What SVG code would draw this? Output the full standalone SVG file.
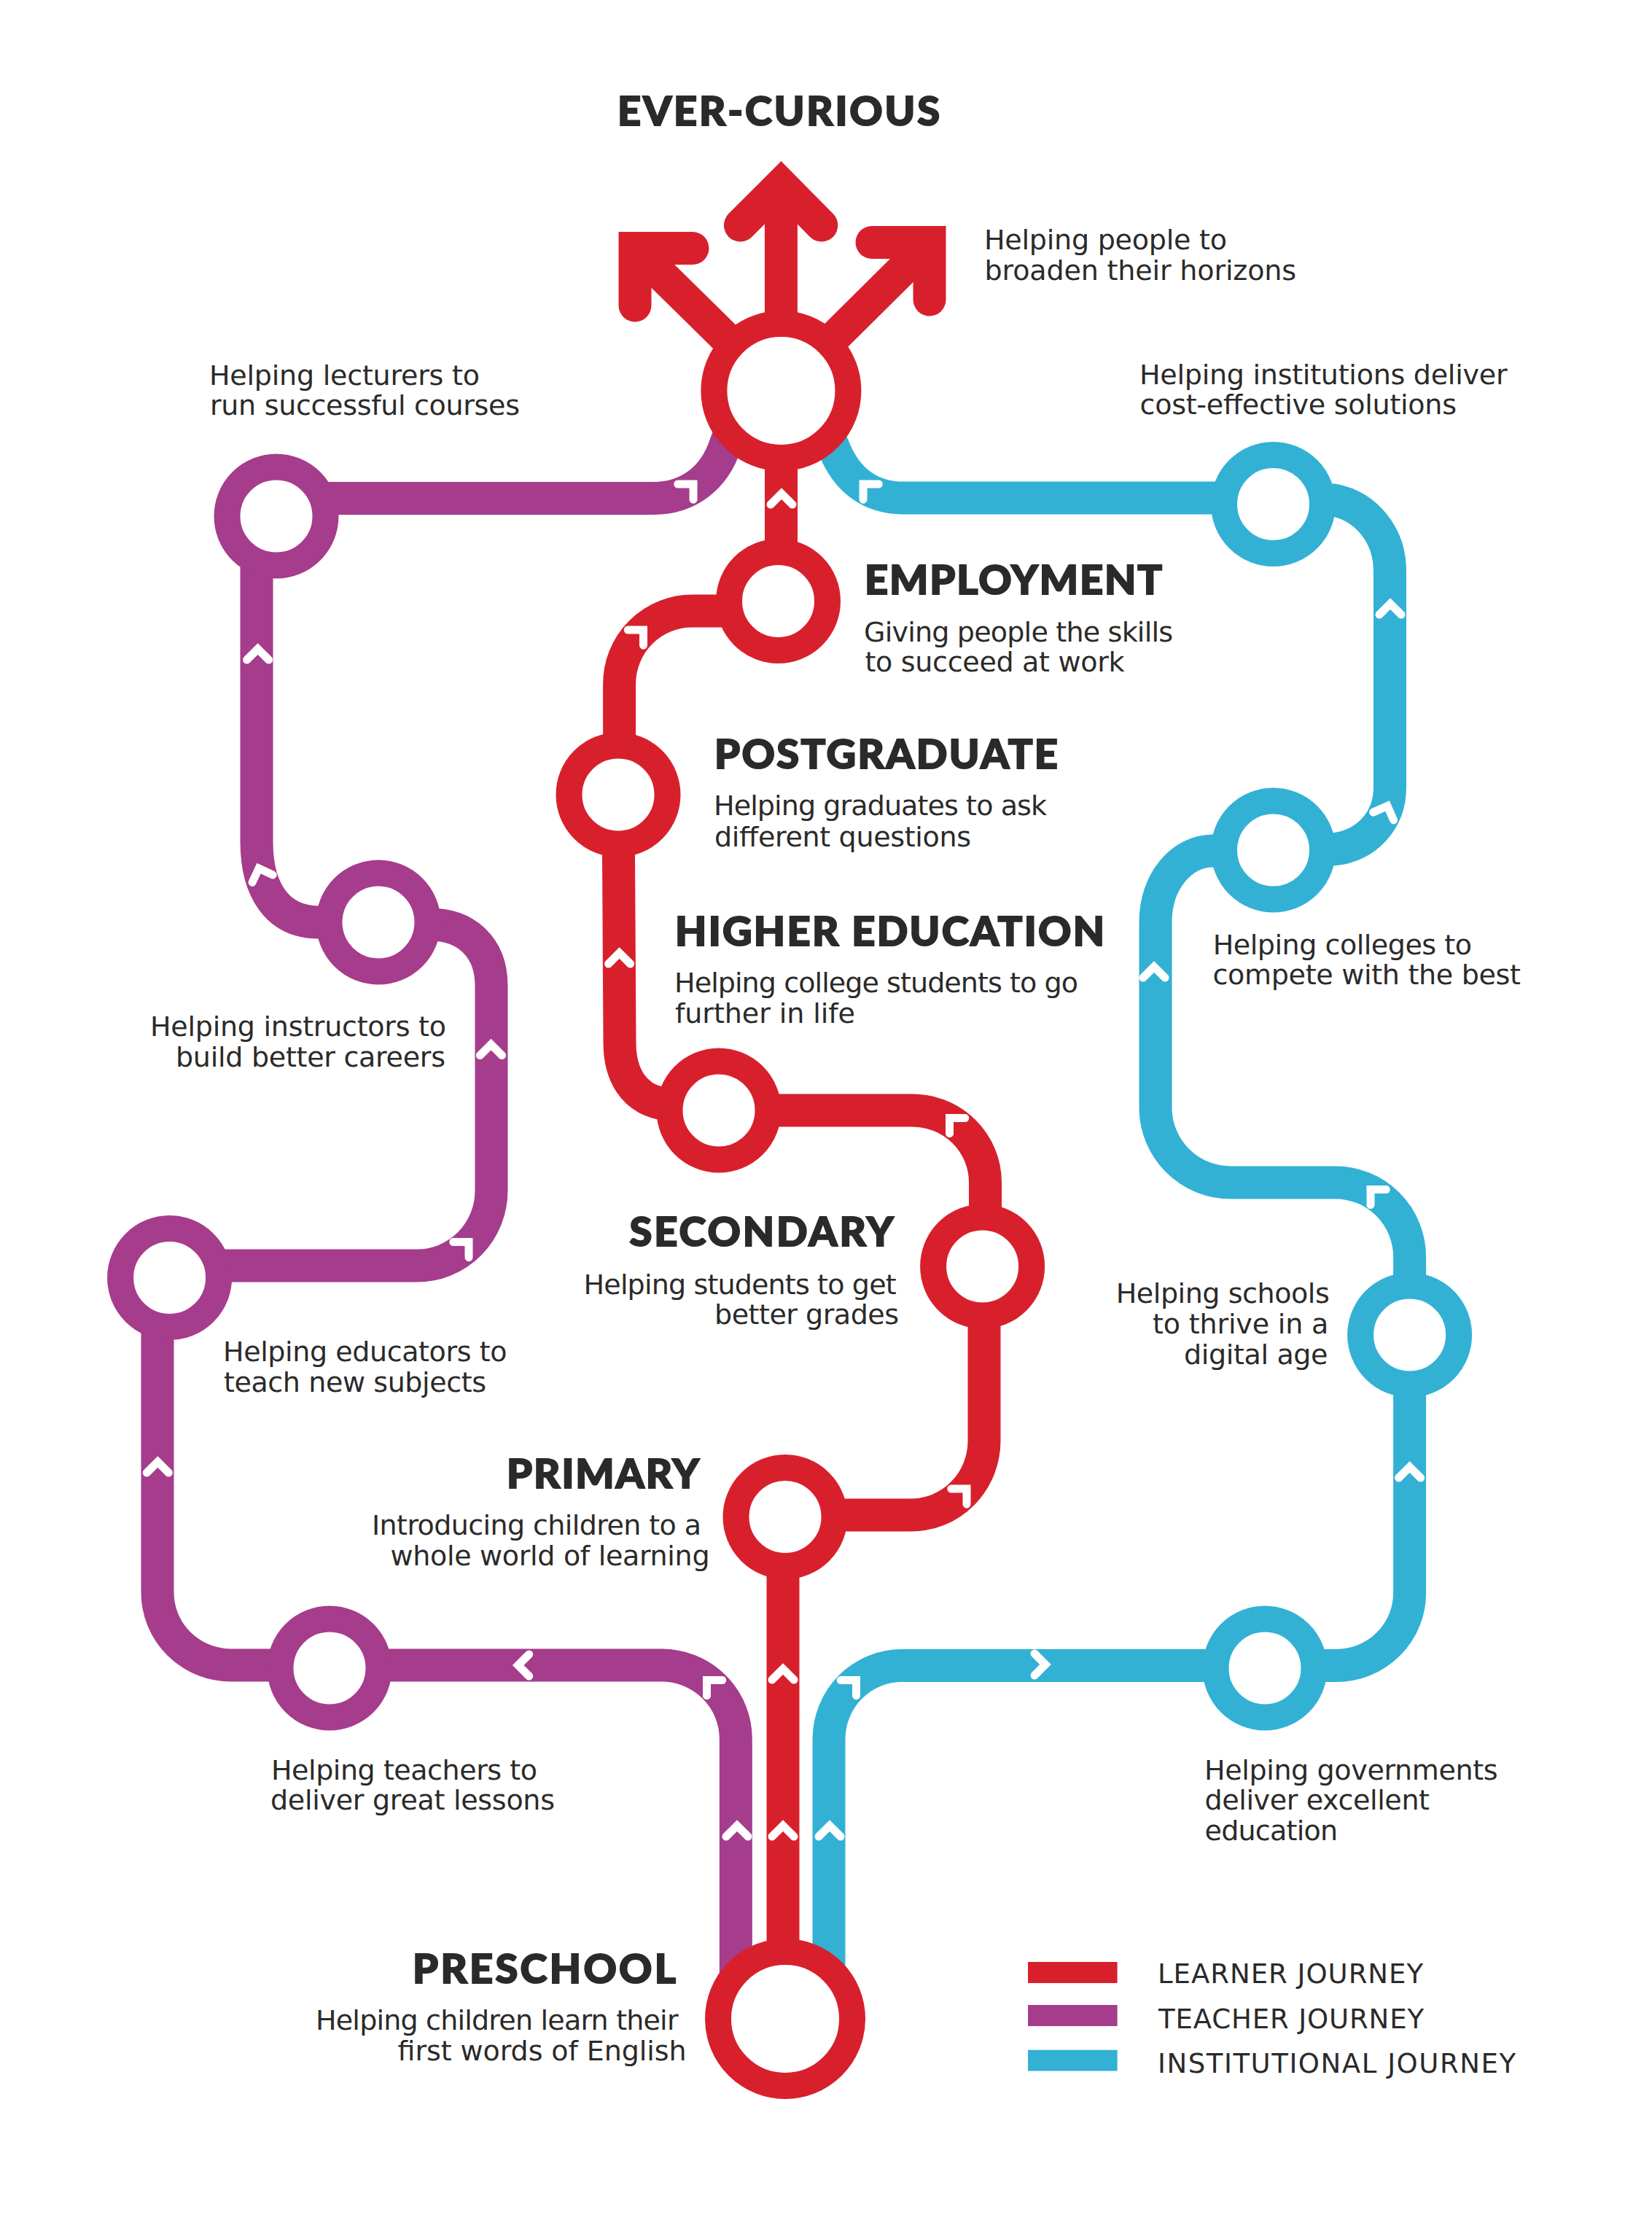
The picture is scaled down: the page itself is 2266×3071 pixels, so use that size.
<svg xmlns="http://www.w3.org/2000/svg" width="2266" height="3071" viewBox="0 0 2266 3071">
<style>
.line{fill:none;stroke-width:45;stroke-linejoin:round}
.r{stroke:#d8202d}.p{stroke:#a63c8c}.c{stroke:#32b1d5}
.nd{fill:#fff;stroke-width:36}
.big{fill:#fff;stroke-width:36}
.b,.l{font-family:"DejaVu Sans","Liberation Sans",sans-serif;font-size:38px;fill:#2b2a29}
.l{font-size:37px}
.h{font-family:Lato,"Noto Sans",sans-serif;font-weight:900;font-size:56px;fill:#2b2a29;stroke:#2b2a29;stroke-width:2}
.ch{fill:none;stroke:#fff;stroke-width:11;stroke-linecap:round;stroke-linejoin:miter}
</style>
<defs><path id="chev" class="ch" d="M-15,15L0,0L15,15"/></defs>
<rect width="2266" height="3071" fill="#fff"/>
<g id="connectors">
<path class="line r" d="M1074,2769L1074,2080"/>
<path class="line r" d="M1078,2078L1250,2078A100,102 0 0 0 1350,1976L1350,1737M1351.5,1737L1351.5,1622A100,99 0 0 0 1251,1523L986,1523"/>
<path class="line r" d="M980,1518L905,1513C870,1505 850,1475 850,1430L848,1090"/>
<path class="line r" d="M849.6,1090L849.6,938A100,100 0 0 1 950,838L1067,838"/>
<path class="line r" d="M1071.5,824L1071.5,536"/>
<path class="line p" d="M1009.3,2769L1009.3,2385A102,101 0 0 0 907,2284L317,2284A101,100 0 0 1 216,2184L216,1752"/>
<path class="line p" d="M232,1736L572,1736A102,103 0 0 0 674,1633L674,1352C674,1300 640,1268 590,1268L519,1265L437,1265C380,1265 352,1220 352,1154L352,708"/>
<path class="line p" d="M379,683.5L896,683.5C945,683.5 980,655 995,610L1010,570"/>
<path class="line c" d="M1137,2769L1137,2385A100,101 0 0 1 1237,2284.5L1833,2284.5A100.600,99.500 0 0 0 1933.6,2185L1933.6,1724A101.600,102 0 0 0 1832,1622L1688,1622A103,103 0 0 1 1585,1519L1585,1264C1585,1210 1620,1167 1664,1167L1746,1166L1829,1165C1875,1160 1906.500,1125 1906.500,1080L1906.500,783C1906.500,735 1875,695 1830,686L1746,686"/>
<path class="line c" d="M1746,683L1239,683C1190,683 1160,655 1144,615L1125,570"/>
<g id="chevrons">
<use href="#chev" transform="translate(353.6,890)"/>
<use href="#chev" transform="translate(355,1191) rotate(-20)"/>
<use href="#chev" transform="translate(673.5,1432.5)"/>
<use href="#chev" transform="translate(643,1703.5) rotate(45)"/>
<use href="#chev" transform="translate(216.3,2005)"/>
<use href="#chev" transform="translate(710.7,2284) rotate(-90)"/>
<use href="#chev" transform="translate(969.5,2304.5) rotate(-45)"/>
<use href="#chev" transform="translate(1011,2504)"/>
<use href="#chev" transform="translate(1074,2289)"/>
<use href="#chev" transform="translate(1074,2504)"/>
<use href="#chev" transform="translate(1138,2504)"/>
<use href="#chev" transform="translate(1174.5,2304.5) rotate(45)"/>
<use href="#chev" transform="translate(1434,2283) rotate(90)"/>
<use href="#chev" transform="translate(1072,677)"/>
<use href="#chev" transform="translate(951,664) rotate(45)"/>
<use href="#chev" transform="translate(1184,664) rotate(-45)"/>
<use href="#chev" transform="translate(882.5,864) rotate(45)"/>
<use href="#chev" transform="translate(849.6,1307)"/>
<use href="#chev" transform="translate(1302.5,1533.5) rotate(-45)"/>
<use href="#chev" transform="translate(1326,2042) rotate(45)"/>
<use href="#chev" transform="translate(1907,828)"/>
<use href="#chev" transform="translate(1903,1105.5) rotate(21)"/>
<use href="#chev" transform="translate(1583,1326)"/>
<use href="#chev" transform="translate(1880,1631.5) rotate(-45)"/>
<use href="#chev" transform="translate(1933.6,2012)"/>
</g>
</g>
<g id="ever-curious">
<path fill="none" stroke="#d8202d" stroke-width="45" stroke-linecap="round" stroke-linejoin="miter" d="M1015.4,309L1071.4,253L1126.8,309"/>
<path fill="none" stroke="#d8202d" stroke-width="45" stroke-linejoin="miter" d="M1071.4,260L1071.4,536"/>
<path fill="none" stroke="#d8202d" stroke-width="45" stroke-linecap="round" stroke-linejoin="miter" d="M950,340.500L871,340.500L871,419"/>
<path fill="none" stroke="#d8202d" stroke-width="45" d="M878,348L1000,468"/>
<path fill="none" stroke="#d8202d" stroke-width="45" stroke-linecap="round" stroke-linejoin="miter" d="M1196,332.500L1275,332.500L1275,411"/>
<path fill="none" stroke="#d8202d" stroke-width="45" d="M1268,340L1145,462"/>
<circle class="big r" cx="1071.4" cy="536" r="92"/>
<text class="h" x="847" y="171.500" textLength="442">EVER-CURIOUS</text>
<text class="b" x="1350" y="342" textLength="333">Helping people to</text>
<text class="b" x="1350.500" y="383.500" textLength="427.500">broaden their horizons</text>
</g>
<g id="employment">
<circle class="nd r" cx="1067.5" cy="824.500" r="67.500"/>
<text class="h" x="1186" y="815" textLength="408">EMPLOYMENT</text>
<text class="b" x="1185" y="880" textLength="424">Giving people the skills</text>
<text class="b" x="1186.500" y="921" textLength="356">to succeed at work</text>
</g>
<g id="postgraduate">
<circle class="nd r" cx="848" cy="1090" r="67.500"/>
<text class="h" x="980" y="1054" textLength="471">POSTGRADUATE</text>
<text class="b" x="979" y="1118.400" textLength="457">Helping graduates to ask</text>
<text class="b" x="980" y="1160.700" textLength="352">different questions</text>
</g>
<g id="higher-education">
<circle class="nd r" cx="986" cy="1523" r="67.500"/>
<text class="h" x="926" y="1297" textLength="589">HIGHER EDUCATION</text>
<text class="b" x="925" y="1360.700" textLength="554">Helping college students to go</text>
<text class="b" x="926" y="1402.600" textLength="247">further in life</text>
</g>
<g id="secondary">
<circle class="nd r" cx="1347.6" cy="1737" r="67.500"/>
<text class="h" x="863.500" y="1709" textLength="362">SECONDARY</text>
<text class="b" x="800.600" y="1774.500" textLength="429">Helping students to get</text>
<text class="b" x="980" y="1816" textLength="253">better grades</text>
</g>
<g id="primary">
<circle class="nd r" cx="1077" cy="2080.600" r="67.500"/>
<text class="h" x="695" y="2040.500" textLength="264">PRIMARY</text>
<text class="b" x="510" y="2105" textLength="452">Introducing children to a</text>
<text class="b" x="535.500" y="2147" textLength="438">whole world of learning</text>
</g>
<g id="preschool">
<circle class="big r" cx="1077" cy="2769" r="92"/>
<text class="h" x="566" y="2719.500" textLength="361">PRESCHOOL</text>
<text class="b" x="433" y="2784" textLength="497.500">Helping children learn their</text>
<text class="b" x="545.500" y="2826" textLength="396">first words of English</text>
</g>
<g id="lecturers">
<circle class="nd p" cx="379" cy="708" r="67.500"/>
<text class="b" x="287" y="527.500" textLength="371">Helping lecturers to</text>
<text class="b" x="288" y="569.400" textLength="425">run successful courses</text>
</g>
<g id="instructors">
<circle class="nd p" cx="519" cy="1265" r="67.500"/>
<text class="b" x="206" y="1421" textLength="406">Helping instructors to</text>
<text class="b" x="241" y="1462.800" textLength="370">build better careers</text>
</g>
<g id="educators">
<circle class="nd p" cx="232.600" cy="1752.600" r="67.500"/>
<text class="b" x="306" y="1867" textLength="389.500">Helping educators to</text>
<text class="b" x="307" y="1908.700" textLength="360">teach new subjects</text>
</g>
<g id="teachers">
<circle class="nd p" cx="452" cy="2288" r="67.500"/>
<text class="b" x="372" y="2441.400" textLength="365">Helping teachers to</text>
<text class="b" x="371" y="2482" textLength="390">deliver great lessons</text>
</g>
<g id="institutions">
<circle class="nd c" cx="1746.500" cy="691.500" r="67.500"/>
<text class="b" x="1563" y="526.800" textLength="504.500">Helping institutions deliver</text>
<text class="b" x="1563.500" y="568.300" textLength="434.500">cost-effective solutions</text>
</g>
<g id="colleges">
<circle class="nd c" cx="1746.500" cy="1166" r="67.500"/>
<text class="b" x="1663.700" y="1308.500" textLength="355.300">Helping colleges to</text>
<text class="b" x="1663.500" y="1349.600" textLength="422.500">compete with the best</text>
</g>
<g id="schools">
<circle class="nd c" cx="1933.600" cy="1831" r="67.500"/>
<text class="b" x="1530.700" y="1787" textLength="293">Helping schools</text>
<text class="b" x="1581" y="1829" textLength="241.400">to thrive in a</text>
<text class="b" x="1624" y="1870.500" textLength="197.500">digital age</text>
</g>
<g id="governments">
<circle class="nd c" cx="1735" cy="2288" r="67.500"/>
<text class="b" x="1652" y="2440.500" textLength="402.500">Helping governments</text>
<text class="b" x="1652.500" y="2482" textLength="308.500">deliver excellent</text>
<text class="b" x="1652.500" y="2523.700" textLength="182.500">education</text>
</g>
<g id="legend">
<rect x="1410" y="2691" width="122.600" height="29" fill="#d8202d"/>
<rect x="1410" y="2750" width="122.600" height="29" fill="#a63c8c"/>
<rect x="1410" y="2811.700" width="122.600" height="28.800" fill="#32b1d5"/>
<text class="l" x="1588" y="2720" textLength="364">LEARNER JOURNEY</text>
<text class="l" x="1589" y="2781.700" textLength="364">TEACHER JOURNEY</text>
<text class="l" x="1588" y="2843" textLength="491">INSTITUTIONAL JOURNEY</text>
</g>
</svg>
